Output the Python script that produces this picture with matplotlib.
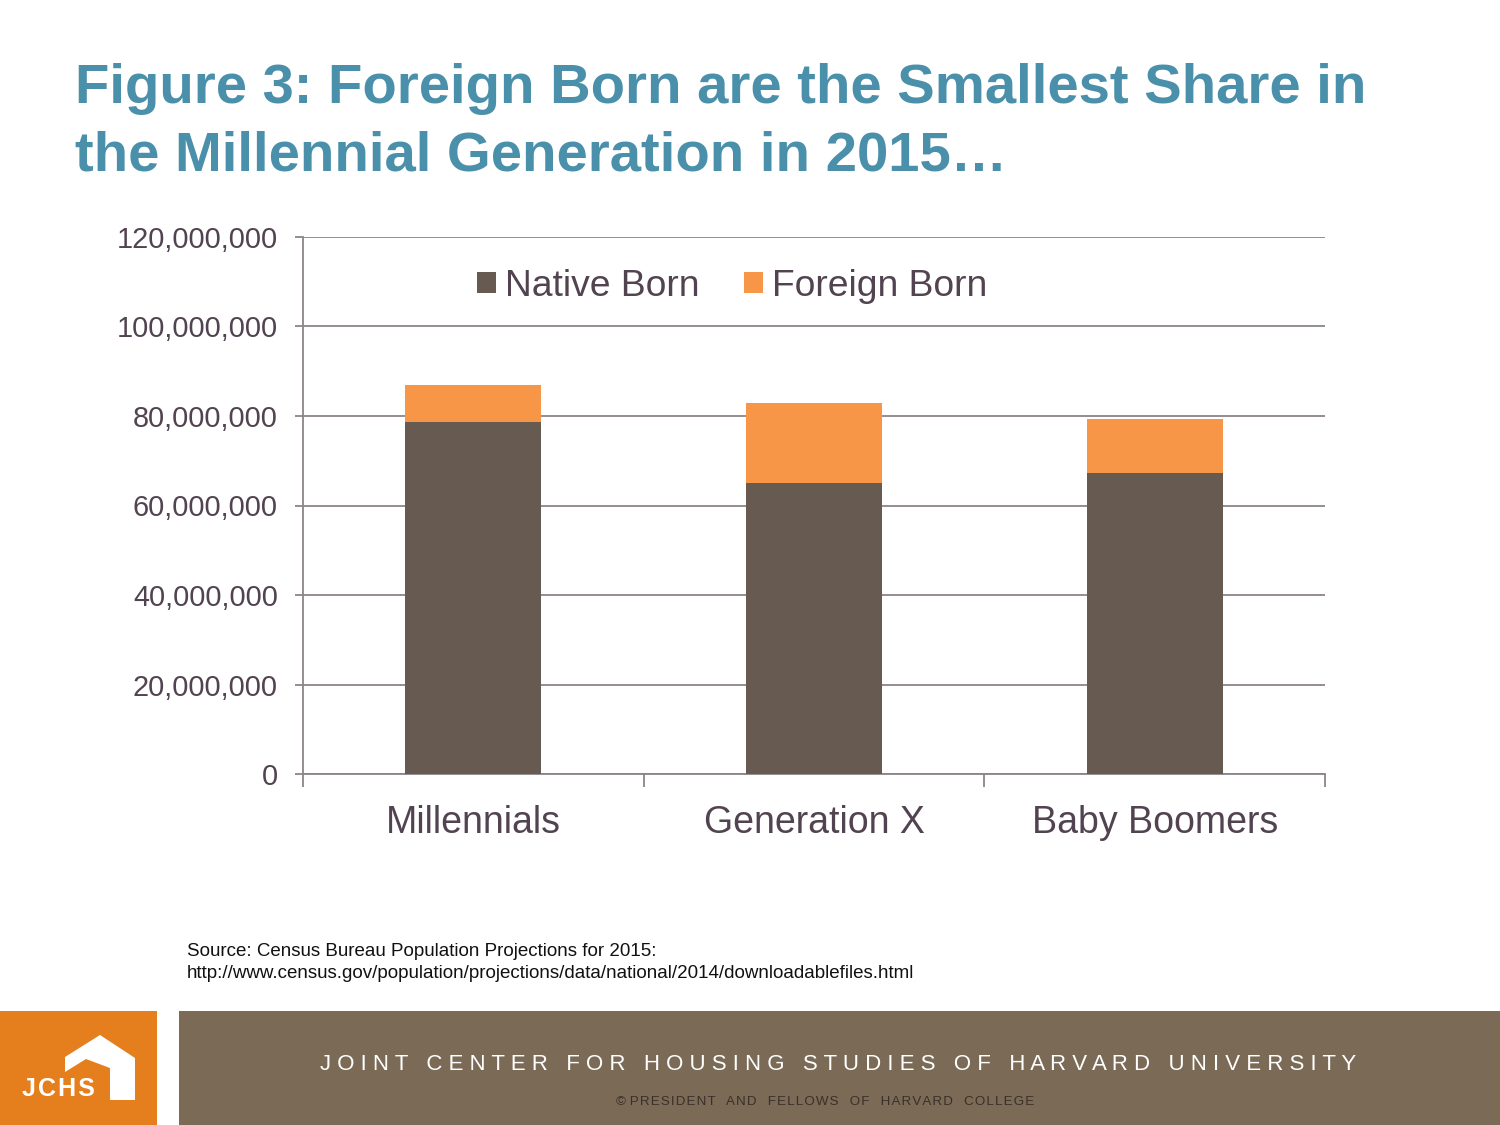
import matplotlib.pyplot as plt
from matplotlib.patches import Rectangle, Polygon
from matplotlib.ticker import FuncFormatter, FixedLocator

generations = ['Millennials', 'Generation X', 'Baby Boomers']
native_born = [78.7e6, 65.0e6, 67.3e6]
foreign_born = [8.2e6, 17.9e6, 12.0e6]

title = 'Figure 3: Foreign Born are the Smallest Share in\nthe Millennial Generation in 2015…'
source = ('Source: Census Bureau Population Projections for 2015:\n'
          'http://www.census.gov/population/projections/data/national/2014/downloadablefiles.html')

plt.rcParams['font.family'] = ['Liberation Sans', 'DejaVu Sans']

W, H = 1500, 1125
fig = plt.figure(figsize=(15, 11.25), dpi=100)


def fx(x):
    return x / W


def fy(y):
    return 1 - y / H


label_col = '#524350'
grid_col = '#8c8587'
native_col = '#675a50'
foreign_col = '#f79646'

# title
fig.text(fx(75), fy(63), title, ha='left', va='top', fontsize=40.5, fontweight='bold',
         color='#4a90aa', linespacing=1.38)

# chart
ax = fig.add_axes([fx(303), fy(774), fx(1325) - fx(303), (774 - 237) / H])
x = range(len(generations))
ax.bar(x, native_born, width=0.4, color=native_col, label='Native Born', zorder=3)
ax.bar(x, foreign_born, width=0.4, bottom=native_born, color=foreign_col,
       label='Foreign Born', zorder=3)
ax.set_xlim(-0.5, 2.5)
ax.set_ylim(0, 120e6)
ax.set_yticks(range(0, 120000001, 20000000))
ax.yaxis.set_major_formatter(FuncFormatter(lambda v, p: f'{int(v):,}'))
ax.yaxis.grid(True, color=grid_col, linewidth=1.3, zorder=0)
ax.set_axisbelow(True)

ax.set_xticks(list(x))
ax.set_xticklabels(generations, fontsize=27, color=label_col)
ax.tick_params(axis='x', length=0, pad=22)
ax.xaxis.set_minor_locator(FixedLocator([-0.5, 0.5, 1.5, 2.5]))
ax.tick_params(axis='x', which='minor', length=9, width=1.3, color=grid_col)
ax.tick_params(axis='y', length=6, width=1.3, color=grid_col, labelsize=20.8,
               labelcolor=label_col, pad=12)

for s in ['top', 'right']:
    ax.spines[s].set_visible(False)
for s in ['left', 'bottom']:
    ax.spines[s].set_color(grid_col)
    ax.spines[s].set_linewidth(1.3)

leg = ax.legend(loc='center', bbox_to_anchor=(0.42, 0.908), ncol=2, frameon=False,
                fontsize=26.8, handlelength=0.5, handleheight=0.5, handletextpad=0.25,
                columnspacing=1.2, borderaxespad=0)
for t in leg.get_texts():
    t.set_color(label_col)

# source
fig.text(fx(187), fy(943), source, ha='left', va='top', fontsize=13.5, color='#111111',
         linespacing=1.4)

# footer
fig.patches.append(Rectangle((0, 0), fx(157), fy(1011), transform=fig.transFigure,
                             facecolor='#e57f1d', edgecolor='none'))
fig.patches.append(Rectangle((fx(179), 0), 1 - fx(179), fy(1011), transform=fig.transFigure,
                             facecolor='#7b6a55', edgecolor='none'))
house = [(100, 1035), (135, 1058), (135, 1100), (110, 1100), (110, 1068),
         (86, 1059), (65, 1072), (65, 1057)]
fig.patches.append(Polygon([(fx(a), fy(b)) for a, b in house], closed=True,
                           transform=fig.transFigure, facecolor='white', edgecolor='none'))


def spaced(s, gap=' '):
    return '   '.join(gap.join(w) for w in s.split(' '))


fig.text(fx(22), fy(1089), spaced('JCHS', '\u200a'), ha='left', va='center', fontsize=18,
         fontweight='bold', color='white')
fig.text(fx(838), fy(1064), spaced('JOINT CENTER FOR HOUSING STUDIES OF HARVARD UNIVERSITY'),
         ha='center', va='center', fontsize=16, color='white')
fig.text(fx(825), fy(1102), '© ' + spaced('PRESIDENT AND FELLOWS OF HARVARD COLLEGE', '\u200a'),
         ha='center', va='center', fontsize=9.6, color='#3a302a')

fig.savefig('out.png', dpi=100)
